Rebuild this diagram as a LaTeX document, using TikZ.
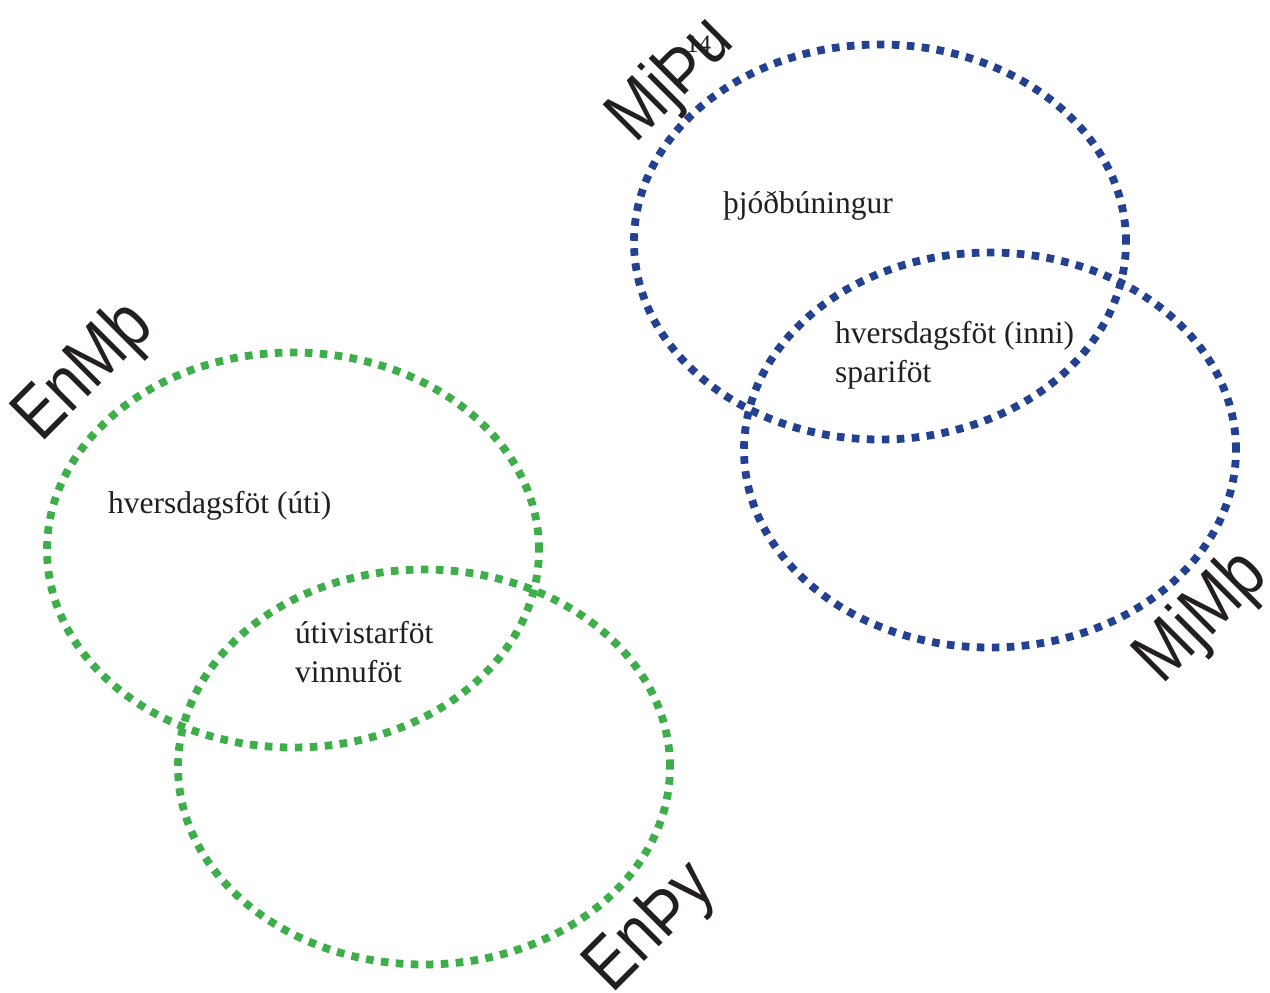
\documentclass[tikz,border=0pt]{standalone}
\usepackage{fontspec}
\setmainfont{Liberation Serif}
\newfontfamily\labelfont{Liberation Sans}
\usetikzlibrary{shapes.geometric}
\definecolor{vgreen}{RGB}{61,174,73}
\definecolor{vblue}{RGB}{35,64,145}
\definecolor{ink}{RGB}{35,31,32}
\tikzset{
  venn/.style={ellipse, draw, line width=7.8pt, dash pattern=on 7.6pt off 7.4pt,
    minimum width=492pt, minimum height=395pt, inner sep=0pt},
  gv/.style={venn, draw=vgreen},
  bv/.style={venn, draw=vblue},
  body/.style={anchor=base west, inner sep=0pt, font=\fontsize{31.5}{39}\selectfont, text=ink},
  lbl/.style={inner sep=0pt, rotate=45, text=ink, font=\labelfont\fontsize{74}{74}\selectfont},
}
\newcommand{\cond}[1]{\scalebox{0.84}[1]{#1}}
\begin{document}
\begin{tikzpicture}[x=1pt,y=-1pt]
\useasboundingbox (0,0) rectangle (1270,993);
% ellipses
\node[gv] (g1) at (293,550) {};
\node[gv] (g2) at (424,767) {};
\node[bv] (b1) at (880,242) {};
\node[bv] (b2) at (990,450) {};
% texts
\node[body] (t1) at (723,213) {þjóðbúningur};
\node[body] (t2) at (835,343) {hversdagsföt (inni)};
\node[body] (t3) at (835,382) {spariföt};
\node[body] (t4) at (108,513) {hversdagsföt (úti)};
\node[body] (t5) at (295,643) {útivistarföt};
\node[body] (t6) at (295,682) {vinnuföt};
\node[anchor=base west, inner sep=0pt, text=ink, font=\fontsize{25}{25}\selectfont] (n14) at (686,52) {14};
% rotated labels
\node[lbl] (l1) at (85,373) {\cond{EnMþ}};
\node[lbl] (l2) at (672,81) {\cond{MjÞu}};
\node[lbl] (l3) at (1203,618) {\cond{MjMþ}};
\node[lbl] (l4) at (652,929) {\cond{EnÞy}};
\end{tikzpicture}
\end{document}
